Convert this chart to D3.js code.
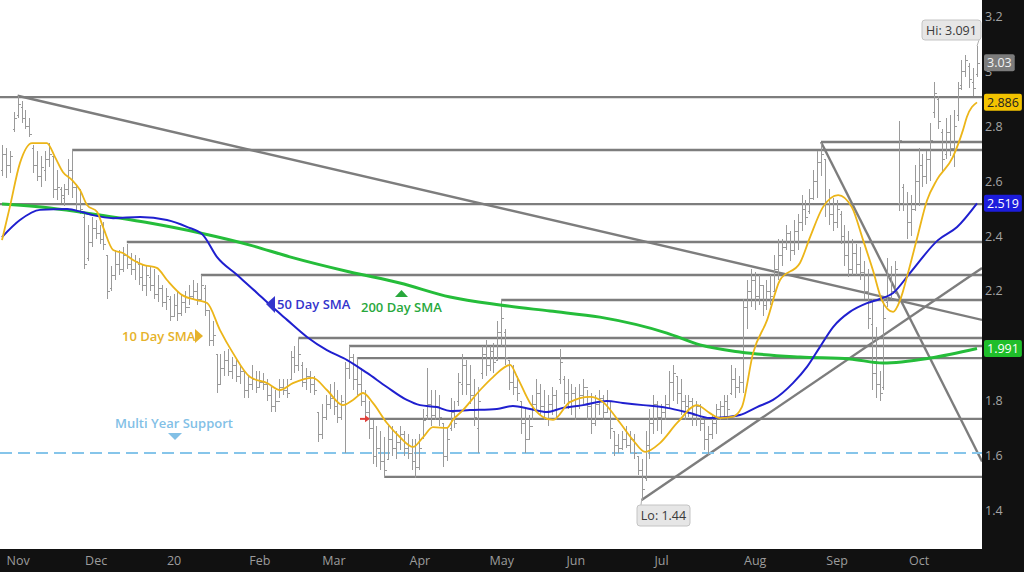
<!DOCTYPE html>
<html><head><meta charset="utf-8">
<script src="https://cdn.jsdelivr.net/npm/d3@7"></script>
<style>
html,body{margin:0;padding:0;background:#fff;}
svg{display:block;font-family:"Open Sans",sans-serif;}
</style></head><body>
<svg id="chart" width="1024" height="572"></svg>
<script>
// ---------- DATA ----------
const monthLabels = ["Nov","Dec","20","Feb","Mar","Apr","May","Jun","Jul","Aug","Sep","Oct"];
const monthIdx = [4,24,44,66,85,107,128,147,169,193,214,235];
const yTicks = [1.4,1.6,1.8,2.2,2.4,2.6,2.8,3,3.2];

const highs = [
2.73,2.72,2.71,2.85,2.91,2.89,2.86,2.83,2.73,2.71,
2.69,2.71,2.74,2.69,2.64,2.58,2.59,2.68,2.71,2.59,
2.57,2.48,2.44,2.47,2.46,2.44,2.45,2.33,2.29,2.35,
2.35,2.36,2.37,2.34,2.33,2.32,2.30,2.29,2.29,2.28,
2.26,2.22,2.21,2.18,2.19,2.20,2.19,2.20,2.22,2.24,
2.23,2.26,2.22,2.13,2.09,1.97,1.97,1.98,1.99,1.96,
1.95,1.93,1.91,1.89,1.93,1.91,1.91,1.90,1.88,1.85,
1.84,1.88,1.88,1.88,1.98,2.00,2.03,1.94,1.92,1.91,
1.89,1.76,1.79,1.82,1.86,1.87,1.84,1.82,1.94,2.00,
1.97,1.96,1.92,1.84,1.80,1.73,1.71,1.69,1.67,1.71,
1.71,1.69,1.71,1.69,1.68,1.66,1.66,1.68,1.77,1.92,
1.84,1.84,1.82,1.72,1.70,1.81,1.80,1.90,1.97,1.95,
1.93,1.88,1.85,2.00,2.02,2.00,2.01,2.09,2.17,2.06,
1.95,1.93,1.89,1.80,1.77,1.75,1.82,1.88,1.86,1.84,
1.82,1.85,1.84,1.99,1.89,1.88,1.86,1.85,1.86,1.88,
1.84,1.83,1.82,1.84,1.82,1.84,1.80,1.69,1.68,1.69,
1.71,1.69,1.68,1.60,1.59,1.69,1.77,1.82,1.80,1.79,
1.82,1.91,1.93,1.89,1.88,1.82,1.82,1.81,1.80,1.79,
1.73,1.71,1.75,1.79,1.80,1.82,1.82,1.93,1.92,1.89,
2.17,2.24,2.28,2.27,2.26,2.22,2.24,2.26,2.33,2.39,
2.39,2.44,2.42,2.46,2.48,2.55,2.53,2.57,2.64,2.71,
2.74,2.68,2.57,2.54,2.53,2.49,2.44,2.42,2.39,2.37,
2.36,2.31,2.28,2.17,2.07,1.91,2.17,2.32,2.29,2.31,
2.82,2.59,2.56,2.55,2.66,2.72,2.70,2.71,2.81,2.96,
2.91,2.79,2.83,2.84,2.86,2.96,3.04,3.06,3.03,3.01,3.09];

const lows = [
2.62,2.61,2.63,2.78,2.83,2.81,2.79,2.76,2.63,2.60,
2.58,2.60,2.65,2.54,2.53,2.52,2.51,2.55,2.54,2.49,
2.48,2.28,2.31,2.36,2.39,2.37,2.35,2.17,2.20,2.24,
2.26,2.27,2.28,2.26,2.24,2.22,2.20,2.18,2.20,2.17,
2.16,2.14,2.13,2.09,2.11,2.09,2.11,2.12,2.15,2.17,
2.15,2.17,2.11,2.00,2.00,1.83,1.86,1.89,1.89,1.88,
1.87,1.86,1.81,1.81,1.84,1.83,1.85,1.84,1.80,1.76,
1.76,1.81,1.82,1.81,1.88,1.90,1.91,1.85,1.84,1.83,
1.82,1.65,1.66,1.73,1.77,1.75,1.72,1.73,1.61,1.88,
1.84,1.82,1.78,1.73,1.66,1.57,1.56,1.55,1.52,1.59,
1.60,1.59,1.62,1.60,1.59,1.55,1.52,1.55,1.66,1.73,
1.71,1.73,1.71,1.56,1.58,1.69,1.70,1.78,1.82,1.82,
1.79,1.71,1.61,1.88,1.89,1.91,1.90,1.95,2.00,1.93,
1.84,1.82,1.80,1.68,1.61,1.66,1.73,1.77,1.75,1.73,
1.71,1.75,1.73,1.86,1.79,1.77,1.75,1.73,1.77,1.79,
1.73,1.68,1.71,1.75,1.73,1.76,1.66,1.60,1.61,1.62,
1.63,1.61,1.59,1.53,1.44,1.51,1.59,1.68,1.69,1.68,
1.73,1.77,1.80,1.79,1.75,1.73,1.74,1.71,1.71,1.69,
1.62,1.60,1.66,1.68,1.73,1.74,1.73,1.82,1.81,1.83,
1.83,2.06,2.14,2.13,2.15,2.11,2.13,2.15,2.20,2.24,
2.29,2.35,2.31,2.33,2.35,2.42,2.44,2.48,2.53,2.54,
2.62,2.47,2.44,2.42,2.43,2.37,2.29,2.25,2.26,2.26,
2.24,2.17,2.06,1.84,1.81,1.80,1.84,2.14,2.17,2.19,
2.49,2.49,2.39,2.40,2.49,2.51,2.58,2.59,2.60,2.83,
2.79,2.63,2.68,2.69,2.65,2.82,2.93,2.98,2.94,2.91,2.98];

const opens = [
2.64,2.70,2.66,2.79,2.84,2.87,2.83,2.80,2.72,2.66,
2.62,2.64,2.68,2.69,2.57,2.57,2.54,2.57,2.64,2.58,
2.52,2.47,2.32,2.38,2.43,2.41,2.39,2.33,2.21,2.26,
2.30,2.28,2.33,2.30,2.28,2.30,2.25,2.22,2.25,2.22,
2.19,2.21,2.16,2.17,2.11,2.15,2.12,2.16,2.14,2.18,
2.20,2.17,2.21,2.13,2.02,1.97,1.86,1.92,1.95,1.91,
1.93,1.89,1.91,1.84,1.86,1.88,1.85,1.87,1.86,1.82,
1.78,1.80,1.85,1.84,1.88,1.96,1.93,1.93,1.87,1.89,
1.86,1.76,1.68,1.74,1.79,1.81,1.78,1.74,1.79,1.92,
1.96,1.88,1.86,1.80,1.76,1.70,1.60,1.63,1.58,1.59,
1.66,1.63,1.65,1.68,1.63,1.61,1.58,1.56,1.67,1.75,
1.79,1.75,1.78,1.72,1.60,1.70,1.76,1.80,1.86,1.93,
1.86,1.82,1.70,1.90,1.97,1.93,1.98,1.95,2.05,2.05,
1.95,1.87,1.85,1.80,1.72,1.66,1.71,1.79,1.83,1.78,
1.76,1.79,1.82,1.88,1.88,1.83,1.80,1.83,1.78,1.82,
1.85,1.78,1.72,1.79,1.81,1.76,1.80,1.69,1.64,1.63,
1.66,1.64,1.66,1.60,1.55,1.52,1.64,1.72,1.79,1.74,
1.76,1.79,1.87,1.89,1.83,1.80,1.78,1.80,1.75,1.78,
1.72,1.66,1.68,1.72,1.77,1.78,1.80,1.83,1.88,1.85,
1.87,2.14,2.20,2.24,2.18,2.22,2.15,2.20,2.20,2.28,
2.33,2.36,2.41,2.35,2.42,2.45,2.50,2.49,2.54,2.60,
2.67,2.68,2.52,2.48,2.45,2.48,2.40,2.33,2.28,2.34,
2.30,2.27,2.20,2.08,1.90,1.86,1.85,2.16,2.25,2.20,
2.52,2.58,2.52,2.45,2.50,2.60,2.66,2.62,2.68,2.85,
2.90,2.78,2.70,2.78,2.72,2.84,2.95,3.00,3.02,2.96,2.99];

const closes = [
2.70,2.66,2.69,2.83,2.88,2.83,2.80,2.77,2.66,2.62,
2.65,2.68,2.70,2.57,2.58,2.55,2.57,2.64,2.58,2.52,
2.50,2.30,2.38,2.43,2.41,2.39,2.37,2.20,2.26,2.30,
2.28,2.33,2.30,2.28,2.31,2.25,2.22,2.26,2.22,2.19,
2.21,2.16,2.18,2.11,2.15,2.12,2.16,2.14,2.18,2.20,
2.17,2.22,2.13,2.02,2.04,1.86,1.92,1.95,1.91,1.93,
1.89,1.91,1.84,1.86,1.88,1.85,1.87,1.86,1.82,1.78,
1.80,1.85,1.84,1.83,1.96,1.93,1.97,1.87,1.89,1.86,
1.84,1.68,1.74,1.79,1.81,1.78,1.74,1.80,1.92,1.96,
1.88,1.86,1.80,1.76,1.70,1.60,1.63,1.58,1.55,1.66,
1.63,1.65,1.68,1.63,1.61,1.58,1.56,1.63,1.73,1.79,
1.75,1.78,1.74,1.60,1.66,1.76,1.72,1.87,1.93,1.86,
1.82,1.74,1.80,1.97,1.93,1.98,1.94,2.05,2.10,1.96,
1.87,1.85,1.83,1.72,1.66,1.71,1.79,1.83,1.78,1.76,
1.79,1.82,1.77,1.94,1.83,1.80,1.83,1.78,1.82,1.85,
1.78,1.72,1.79,1.81,1.76,1.80,1.70,1.64,1.63,1.66,
1.64,1.66,1.61,1.55,1.48,1.64,1.72,1.79,1.74,1.76,
1.79,1.87,1.90,1.83,1.80,1.78,1.80,1.75,1.78,1.72,
1.66,1.68,1.72,1.77,1.78,1.80,1.77,1.88,1.85,1.87,
2.14,2.20,2.24,2.18,2.22,2.15,2.20,2.18,2.28,2.33,
2.36,2.41,2.35,2.42,2.45,2.50,2.47,2.54,2.60,2.67,
2.70,2.52,2.48,2.45,2.50,2.40,2.33,2.28,2.34,2.30,
2.27,2.20,2.10,1.90,1.86,1.83,2.10,2.25,2.20,2.28,
2.75,2.52,2.45,2.50,2.60,2.66,2.62,2.68,2.75,2.92,
2.82,2.68,2.78,2.72,2.80,2.94,3.00,3.04,2.97,2.94,3.03];

// moving averages read at sample bars: [barIndex, value]
const sma10 = [[0,2.385],[2,2.505],[4.6,2.665],[7.7,2.738],[11.5,2.738],[13.6,2.687],[15.6,2.633],[17.9,2.604],[20,2.567],[21.8,2.513],[24.4,2.487],[25.9,2.433],[28.5,2.349],[31,2.338],[33.6,2.313],[36.2,2.295],[39.7,2.284],[42.3,2.24],[46.2,2.185],[50,2.167],[52.6,2.156],[55.9,2.058],[59.2,1.975],[63.6,1.887],[68,1.865],[71.3,1.84],[74.6,1.865],[79.7,1.884],[83.3,1.84],[87.4,1.785],[90,1.804],[92.6,1.829],[95.1,1.793],[98.7,1.72],[102,1.669],[105.4,1.633],[108,1.669],[110.5,1.705],[114.1,1.702],[115.6,1.731],[118.2,1.767],[122.6,1.84],[125.9,1.887],[130.3,1.931],[132.1,1.887],[135.4,1.793],[138.7,1.742],[141.3,1.731],[145.6,1.796],[150.8,1.815],[154.1,1.796],[158.5,1.72],[161.8,1.658],[164.9,1.615],[168.7,1.647],[173.1,1.72],[178.2,1.785],[181.5,1.756],[184.1,1.738],[187.2,1.742],[189.7,1.778],[192.6,1.975],[196.2,2.095],[199.5,2.24],[204.6,2.302],[207.2,2.396],[210.5,2.505],[214.4,2.549],[217.9,2.505],[220.8,2.385],[223.3,2.276],[225.6,2.167],[228.5,2.124],[230.3,2.167],[232.3,2.265],[234.6,2.39],[237.2,2.53],[239.7,2.604],[243.8,2.687],[246.4,2.785],[247.4,2.833],[250,2.886]];
const sma50 = [[0,2.396],[4.6,2.458],[9.7,2.495],[16.7,2.498],[20.5,2.487],[23.3,2.476],[28.5,2.465],[35.4,2.469],[42.3,2.458],[47.4,2.433],[51.5,2.404],[55.1,2.324],[60.3,2.258],[65.4,2.193],[68.2,2.156],[73.1,2.095],[78.2,2.033],[83.3,1.985],[88.5,1.949],[93.6,1.902],[98.7,1.851],[103.8,1.804],[107.2,1.785],[111.5,1.778],[114.9,1.764],[120,1.767],[126.9,1.771],[131,1.782],[135.4,1.771],[139.7,1.76],[143.8,1.775],[149,1.785],[155.1,1.8],[159.2,1.793],[164.4,1.785],[170.5,1.775],[176.4,1.756],[181.5,1.738],[185.9,1.742],[189.2,1.749],[193.6,1.778],[197.7,1.804],[202.8,1.865],[206.4,1.924],[209.7,1.996],[213.1,2.069],[217.4,2.124],[221.8,2.156],[225.1,2.171],[228.5,2.193],[232.8,2.265],[240,2.385],[244.9,2.433],[250,2.519]];
const sma200 = [[0,2.516],[12.3,2.502],[25.1,2.476],[37.9,2.447],[50.8,2.411],[63.6,2.367],[73.8,2.324],[89.2,2.269],[102,2.229],[114.9,2.178],[127.7,2.149],[140.5,2.127],[153.3,2.105],[170.5,2.047],[179,2.004],[189.2,1.978],[204.6,1.96],[217.4,1.953],[225.9,1.938],[237.9,1.956],[250,1.991]];

// support / resistance levels: [value, starting bar]
const levels = [[2.905,-2],[2.713,18],[2.742,210],[2.516,-2],[2.378,32],[2.258,51],[2.167,128],[2.029,76],[2.0,89],[1.956,91],[1.735,94],[1.524,98]];
// trend lines: [[bar, value],[bar, value]]
const trendLines = [[[4,2.91],[251.3,2.095]],[[210,2.742],[251.3,1.58]],[[164,1.44],[251.3,2.284]]];
const supportLevel = 1.611;
const lastValues = [
  {v:3.03, fill:"#7c7c7c", text:"#f2f2f2"},
  {v:2.886, fill:"#f3c300", text:"#222"},
  {v:2.519, fill:"#1c1cdc", text:"#fff"},
  {v:1.991, fill:"#1fbe2a", text:"#fff"}];
const hiLo = {hi:{bar:250, v:3.091, label:"Hi: 3.091"}, lo:{bar:164, v:1.44, label:"Lo: 1.44"}};

// ---------- CHART ----------
const W = 1024, H = 572, plotR = 982, plotB = 549;
const svg = d3.select("#chart");
const x = d3.scaleLinear().domain([0, 250]).range([2, 977]);
const y = d3.scaleLinear().domain([1.2618, 3.2582]).range([plotB, 0]);

svg.append("defs").append("clipPath").attr("id","clip")
  .append("rect").attr("x",0).attr("y",0).attr("width",plotR).attr("height",plotB);
const plot = svg.append("g").attr("clip-path","url(#clip)");

const grey = "#7d7d7d";
plot.selectAll("line.lvl").data(levels).join("line")
  .attr("x1", d => Math.max(0, x(d[1]))).attr("x2", plotR)
  .attr("y1", d => y(d[0])).attr("y2", d => y(d[0]))
  .attr("stroke", grey).attr("stroke-width", 2.4);
plot.selectAll("line.tr").data(trendLines).join("line")
  .attr("x1", d => x(d[0][0])).attr("y1", d => y(d[0][1]))
  .attr("x2", d => x(d[1][0])).attr("y2", d => y(d[1][1]))
  .attr("stroke", grey).attr("stroke-width", 2.4);
plot.append("line").attr("x1",0).attr("x2",plotR)
  .attr("y1",y(supportLevel)).attr("y2",y(supportLevel))
  .attr("stroke","#86c5ea").attr("stroke-width",2).attr("stroke-dasharray","12,6");

const bars = plot.append("g").attr("stroke","#9a9a9a").attr("stroke-width",1).attr("shape-rendering","crispEdges");
highs.forEach((h,i) => {
  const cx = Math.round(x(i)) + 0.5;
  bars.append("line").attr("x1",cx).attr("x2",cx).attr("y1",y(h)).attr("y2",y(lows[i]));
  bars.append("line").attr("x1",cx-2).attr("x2",cx).attr("y1",Math.round(y(opens[i]))+0.5).attr("y2",Math.round(y(opens[i]))+0.5);
  bars.append("line").attr("x1",cx).attr("x2",cx+2).attr("y1",Math.round(y(closes[i]))+0.5).attr("y2",Math.round(y(closes[i]))+0.5);
});

const line = d3.line().x(d => x(d[0])).y(d => y(d[1])).curve(d3.curveMonotoneX);
plot.append("path").attr("d", line(sma200)).attr("fill","none").attr("stroke","#25bd3a").attr("stroke-width",3);
plot.append("path").attr("d", line(sma50)).attr("fill","none").attr("stroke","#1f1fcf").attr("stroke-width",2);
plot.append("path").attr("d", line(sma10)).attr("fill","none").attr("stroke","#ecb518").attr("stroke-width",1.8);

const ann = svg.append("g").attr("font-size","13px").attr("font-weight","600");
ann.append("text").attr("x",122).attr("y",341).attr("fill","#e6b22a").text("10 Day SMA");
ann.append("path").attr("d","M195,329 L203,336 L195,343 Z").attr("fill","#e6b22a");
ann.append("text").attr("x",277).attr("y",309).attr("fill","#3434cc").text("50 Day SMA");
ann.append("path").attr("d","M275,296 L266,304 L275,313 Z").attr("fill","#3434cc");
ann.append("text").attr("x",361).attr("y",312).attr("fill","#29a83c").text("200 Day SMA");
ann.append("path").attr("d","M395,297 L401.5,290 L408,297 Z").attr("fill","#29a83c");
ann.append("text").attr("x",115).attr("y",428).attr("fill","#82c0e6").text("Multi Year Support");
ann.append("path").attr("d","M168,433 L182,433 L175,440 Z").attr("fill","#82c0e6");
svg.append("line").attr("x1",360).attr("x2",367).attr("y1",y(1.735)).attr("y2",y(1.735)).attr("stroke","#e0403a").attr("stroke-width",2);
svg.append("path").attr("d",`M365,${y(1.735)-3.5} L370,${y(1.735)} L365,${y(1.735)+3.5} Z`).attr("fill","#e0403a");

function callout(bx, label, px, py) {
  const g = svg.append("g");
  g.append("line").attr("x1",px).attr("y1",py).attr("x2",bx.cx).attr("y2",bx.cy).attr("stroke","#b0b0b0").attr("stroke-width",1);
  g.append("rect").attr("x",bx.x).attr("y",bx.y).attr("width",bx.w).attr("height",bx.h).attr("rx",3)
    .attr("fill","#e6e6e6").attr("stroke","#c4c4c4");
  g.append("text").attr("x",bx.x+bx.w/2).attr("y",bx.y+bx.h/2+4.5).attr("text-anchor","middle")
    .attr("font-size","12.5px").attr("fill","#3a3a3a").text(label);
}
callout({x:922,y:20,w:59,h:20,cx:979,cy:40}, hiLo.hi.label, x(hiLo.hi.bar), y(hiLo.hi.v));
callout({x:637,y:505,w:53,h:21,cx:641,cy:505}, hiLo.lo.label, x(hiLo.lo.bar), y(hiLo.lo.v));

svg.append("rect").attr("x",0).attr("y",plotB).attr("width",W).attr("height",H-plotB).attr("fill","#111");
svg.append("rect").attr("x",plotR).attr("y",0).attr("width",W-plotR).attr("height",H).attr("fill","#111");

const xAxis = svg.append("g").attr("transform",`translate(0,${plotB})`)
  .call(d3.axisBottom(x).tickValues(monthIdx).tickFormat((d,i)=>monthLabels[i]).tickSize(0).tickPadding(7));
xAxis.select(".domain").remove();
xAxis.selectAll("text").attr("fill","#9c9c9c").attr("font-size","12.5px").attr("font-family","Open Sans, sans-serif");

const yAxis = svg.append("g").attr("transform",`translate(${plotR},0)`)
  .call(d3.axisRight(y).tickValues(yTicks).tickFormat(d3.format("~g")).tickSize(0).tickPadding(3));
yAxis.select(".domain").remove();
yAxis.selectAll("text").attr("fill","#a4a4a4").attr("font-size","12.5px").attr("font-family","Open Sans, sans-serif");

lastValues.forEach(d => {
  const g = svg.append("g");
  const t = g.append("text").attr("x",987).attr("y",y(d.v)+4.5).attr("font-size","12.5px").attr("fill",d.text).text(String(d.v));
  const w = t.node().getComputedTextLength();
  g.insert("rect","text").attr("x",984).attr("y",y(d.v)-8.5).attr("width",w+6).attr("height",17).attr("rx",2).attr("fill",d.fill);
});
</script>
</body></html>
